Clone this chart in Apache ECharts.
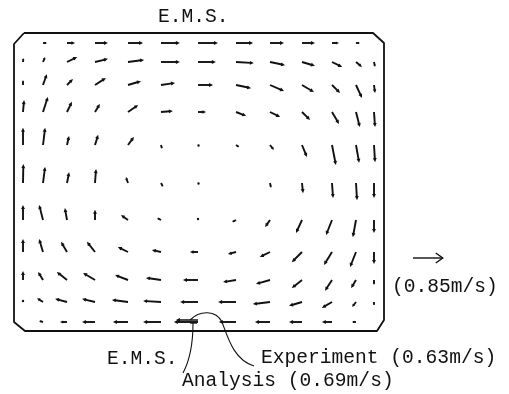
<!DOCTYPE html>
<html>
<head>
<meta charset="utf-8">
<script src="https://cdn.jsdelivr.net/npm/echarts@6/dist/echarts.min.js"></script>
<style>
  html, body { margin: 0; padding: 0; background: #fff; }
  #main { width: 509px; height: 394px; }
</style>
</head>
<body>
<div id="main"></div>
<script>
// node positions inside the vessel (box is 370 x 298)
const xNodes = [9, 29, 53, 81, 114, 147, 184, 222, 256, 288, 318, 342, 360]
const yNodes = [288, 269, 246, 219, 186, 148, 111, 79, 51, 29, 9]

// velocity components (m/s), one row per yNodes entry, v positive upward
const uVel = [
  [0, .11, .23, .37, .43, .54, .57, .49, .40, .37, .20, .11, 0],
  [.01, .06, .29, .37, .46, .54, .51, .51, .43, .37, .29, .17, .03],
  [0, .11, .17, .31, .37, .40, .43, .43, .40, .34, .23, .17, .03],
  [.03, .14, .14, .14, .29, .34, .23, .29, .29, .23, .20, .11, .03],
  [0, .06, .06, .09, .17, .03, .03, .09, .11, .14, .11, .09, .03],
  [.01, .06, .06, .03, -.06, .06, .03, 0, .03, .03, .03, .03, 0],
  [0, -.11, -.06, 0, -.20, -.11, 0, -.11, -.14, -.17, -.17, -.09, 0],
  [0, -.11, -.17, -.23, -.29, -.26, -.23, -.23, -.29, -.29, -.23, -.17, 0],
  [0, -.14, -.29, -.34, -.37, -.43, -.43, -.37, -.40, -.29, -.20, -.14, 0],
  [0, -.17, -.34, -.37, -.46, -.51, -.51, -.51, -.49, -.37, -.29, -.11, 0],
  [0, -.11, -.20, -.37, -.43, -.51, -.69, -.49, -.43, -.37, -.29, -.11, 0],
]
const vVel = [
  [0, 0, 0, 0, 0, 0, 0, 0, 0, 0, 0, 0, 0],
  [.11, .14, .14, .09, .06, 0, 0, -.03, -.09, -.11, -.14, -.14, -.14],
  [.14, .31, .17, .20, .11, .06, 0, -.09, -.17, -.20, -.23, -.37, -.23],
  [.34, .43, .29, .23, .20, .03, 0, -.11, -.14, -.23, -.34, -.43, -.43],
  [.49, .49, .26, .29, .23, -.11, -.03, -.06, -.14, -.34, -.57, -.51, -.49],
  [.54, .46, .31, .40, .17, -.11, -.03, 0, -.14, -.29, -.43, -.49, -.43],
  [.43, .43, .34, .29, .14, .06, .06, -.06, -.20, -.37, -.43, -.49, -.37],
  [.37, .37, .29, .29, .14, .06, 0, -.06, -.14, -.29, -.37, -.43, -.34],
  [.26, .23, .23, .20, .14, .06, 0, -.06, -.11, -.23, -.31, -.23, -.14],
  [.06, .11, .09, .09, .06, .03, 0, 0, -.06, -.11, -.17, -.14, -.09],
  [0, .03, 0, 0, 0, 0, 0, 0, 0, 0, 0, 0, 0],
]

// E.M.S. measuring point (bottom) and scale arrow
const emsPos = [184, 9]
const emsExperiment = -0.63
const emsAnalysis = -0.69
const refPos = [399, 73]
const refSpeed = 0.85

const boxW = 370
const boxH = 298
const S = 35 // px per m/s
const FONT = '"Liberation Mono", "Courier New", monospace'
const FS = 19.6
const INK = '#111'

const vectorData = []
yNodes.forEach((y, r) => {
  xNodes.forEach((x, c) => {
    vectorData.push([x, y, uVel[r][c], vVel[r][c]])
  })
})

// box outline with cut corners
const boxLine = [
  [10, boxH], [boxW - 11, boxH], [boxW, boxH - 10], [boxW, 11],
  [boxW - 7, 0], [11, 0], [0, 9], [0, boxH - 11], [10, boxH],
]

const arrowShape = (x0, y0, dx, dy, lw) => {
  const len = Math.hypot(dx, dy)
  if (len < 0.6) return null
  if (len < 2.2) {
    return { type: 'circle', shape: { cx: x0 + dx / 2, cy: y0 + dy / 2, r: 1.2 }, style: { fill: INK } }
  }
  const ux = dx / len, uy = dy / len
  const hl = Math.min(4, len * 0.45)
  const hw = hl * 0.48
  const tip = [x0 + dx, y0 + dy]
  const base = [tip[0] - ux * hl, tip[1] - uy * hl]
  return {
    type: 'group',
    children: [
      { type: 'line', shape: { x1: x0, y1: y0, x2: base[0] + ux, y2: base[1] + uy }, style: { stroke: INK, lineWidth: lw } },
      {
        type: 'polygon',
        shape: { points: [tip, [base[0] - uy * hw, base[1] + ux * hw], [base[0] + uy * hw, base[1] - ux * hw]] },
        style: { fill: INK },
      },
    ],
  }
}

const renderVector = (params, api) => {
  const p = api.coord([api.value(0), api.value(1)])
  return arrowShape(p[0], p[1], api.value(2) * S, -api.value(3) * S, 1.9)
}

const renderEms = (params, api) => {
  const p = api.coord([api.value(0), api.value(1)])
  const x = p[0], y = p[1]
  const children = []
  const a = arrowShape(x, y - 2, api.value(2) * S, 0, 1.5)
  if (a) children.push(a)
  // leader to "Experiment"
  children.push({
    type: 'bezierCurve',
    shape: { x1: x - 8, y1: y - 2, cpx1: x + 2, cpy1: y - 12, cpx2: x + 18, cpy2: y - 12, x2: x + 24, y2: y },
    style: { stroke: INK, lineWidth: 1.1, fill: null },
  })
  children.push({
    type: 'bezierCurve',
    shape: { x1: x + 24, y1: y, cpx1: x + 30, cpy1: y + 16, cpx2: x + 36, cpy2: y + 38, x2: x + 56, y2: y + 44 },
    style: { stroke: INK, lineWidth: 1.1, fill: null },
  })
  // leader to "Analysis"
  children.push({
    type: 'line', shape: { x1: x - 8, y1: y + 1, x2: x - 1, y2: y + 1 }, style: { stroke: INK, lineWidth: 1.3 },
  })
  children.push({
    type: 'bezierCurve',
    shape: { x1: x - 5, y1: y + 1, cpx1: x - 5, cpy1: y + 20, cpx2: x - 7, cpy2: y + 36, x2: x - 15, y2: y + 51 },
    style: { stroke: INK, lineWidth: 1.1, fill: null },
  })
  return { type: 'group', children }
}

const renderRef = (params, api) => {
  const p = api.coord([api.value(0), api.value(1)])
  const len = api.value(2) * S
  return {
    type: 'group',
    children: [
      { type: 'line', shape: { x1: p[0], y1: p[1], x2: p[0] + len, y2: p[1] }, style: { stroke: INK, lineWidth: 1.4 } },
      {
        type: 'polyline',
        shape: { points: [[p[0] + len - 7, p[1] - 5], [p[0] + len, p[1]], [p[0] + len - 7, p[1] + 5]] },
        style: { stroke: INK, lineWidth: 1.4, fill: null },
      },
    ],
  }
}

const chart = echarts.init(document.getElementById('main'), null, { renderer: 'canvas' })
chart.setOption({
  animation: false,
  backgroundColor: '#fff',
  grid: { left: 14, top: 33, width: boxW, height: boxH },
  xAxis: { type: 'value', min: 0, max: boxW, show: false },
  yAxis: { type: 'value', min: 0, max: boxH, show: false },
  graphic: [
    { type: 'text', left: 158, top: 7, style: { text: 'E.M.S.', font: `${FS}px ${FONT}`, fill: INK } },
    { type: 'text', left: 392, top: 277, style: { text: '(0.85m/s)', font: `${FS}px ${FONT}`, fill: INK } },
    { type: 'text', left: 107, top: 349, style: { text: 'E.M.S.', font: `${FS}px ${FONT}`, fill: INK } },
    { type: 'text', left: 261, top: 348, style: { text: 'Experiment (0.63m/s)', font: `${FS}px ${FONT}`, fill: INK } },
    { type: 'text', left: 182, top: 371, style: { text: 'Analysis (0.69m/s)', font: `${FS}px ${FONT}`, fill: INK } },
  ],
  series: [
    {
      type: 'line',
      data: boxLine,
      symbol: 'none',
      lineStyle: { color: INK, width: 1.8 },
      silent: true,
    },
    {
      type: 'custom',
      renderItem: renderVector,
      data: vectorData,
      encode: { x: 0, y: 1 },
      clip: false,
    },
    {
      type: 'custom',
      renderItem: renderEms,
      data: [[emsPos[0], emsPos[1], emsExperiment, emsAnalysis]],
      encode: { x: 0, y: 1 },
      clip: false,
    },
    {
      type: 'custom',
      renderItem: renderRef,
      data: [[refPos[0], refPos[1], refSpeed]],
      encode: { x: 0, y: 1 },
      clip: false,
    },
  ],
})
</script>
</body>
</html>
